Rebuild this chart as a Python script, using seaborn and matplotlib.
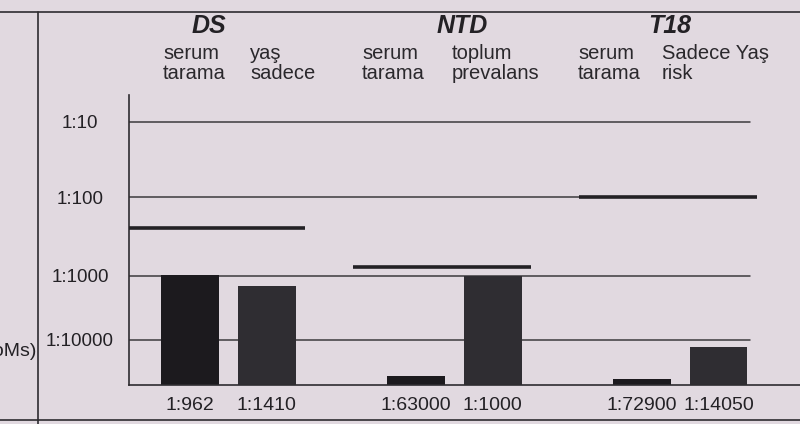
import matplotlib
matplotlib.use('Agg')
import matplotlib.pyplot as plt
from matplotlib.lines import Line2D
import seaborn as sns
import pandas as pd
import numpy as np

# Risk values (1:N)
groups = ['DS', 'DS', 'NTD', 'NTD', 'T18', 'T18']
kinds = ['serum', 'referans', 'serum', 'referans', 'serum', 'referans']
denominators = [962, 1410, 63000, 1000, 72900, 14050]
sub_labels = ['serum\ntarama', 'yaş\nsadece', 'serum\ntarama', 'toplum\nprevalans',
              'serum\ntarama', 'Sadece Yaş\nrisk']
group_names = ['DS', 'NTD', 'T18']
cutoffs = [250, 780, 100]
tick_denoms = [10, 100, 1000, 10000]

PAPER = '#e1d9e0'
INK = '#232125'

# bars grow up from 1:100000; printed axis has uneven decade spacing
BASE = 100000
H_KNOTS = [-1, 0, 1, 2, 3, 4, 5]
PX_KNOTS = [-45, 0, 45, 109, 188, 263, 338]


def to_height(d):
    return np.log10(BASE / np.asarray(d, dtype=float))


def fwd(v):
    return np.interp(v, H_KNOTS, PX_KNOTS)


def inv(v):
    return np.interp(v, PX_KNOTS, H_KNOTS)


def main():
    sns.set_style('white')
    plt.rcParams['font.family'] = ['Liberation Sans', 'DejaVu Sans']

    df = pd.DataFrame({'grup': groups, 'tur': kinds, 'h': to_height(denominators)})

    fig = plt.figure(figsize=(8, 4.24), dpi=100, facecolor=PAPER)
    W, H = 800, 424
    ax = fig.add_axes([129 / W, 1 - 385 / H, (800 - 129) / W, (385 - 95) / H])
    ax.set_facecolor(PAPER)

    sns.barplot(data=df, x='grup', y='h', hue='tur', hue_order=['serum', 'referans'],
                palette=['#1c1a1e', '#2f2d32'], width=0.68, gap=0.25,
                legend=False, errorbar=None, saturation=1, linewidth=0, ax=ax)

    ax.set_yscale('function', functions=(fwd, inv))
    ax.set_ylim(0, float(inv(290)))
    ax.set_xlim(-0.44, 2.53)

    # gridlines at the decade ticks
    tick_h = to_height(tick_denoms)
    gx = (750 - 129) / (800 - 129)
    for th in tick_h:
        ax.axhline(th, xmin=0, xmax=gx, color='#3c3a3e', lw=1.1, zorder=0.5)
    ax.set_yticks(tick_h, labels=[f'1:{d}' for d in tick_denoms])
    ax.tick_params(axis='y', length=0, pad=35.3, labelsize=13.5, labelcolor=INK)
    for lbl in ax.get_yticklabels():
        lbl.set_horizontalalignment('center')
    ax.tick_params(axis='x', length=0, labelbottom=False)
    ax.set_xlabel('')
    ax.set_ylabel('')

    for side in ['top', 'right']:
        ax.spines[side].set_visible(False)
    for side in ['left', 'bottom']:
        ax.spines[side].set_color('#2e2c30')
        ax.spines[side].set_linewidth(1.2)

    # cut-off lines per test
    for i, c in enumerate(cutoffs):
        ax.hlines(to_height(c), i - 0.45, i + 0.34, color=INK, lw=2.6, zorder=3)

    # risk labels under each bar
    bars = sorted(ax.patches, key=lambda p: p.get_x())
    for p, d in zip(bars, denominators):
        ax.text(p.get_x() + p.get_width() / 2, -20 / 290, f'1:{d}',
                transform=ax.get_xaxis_transform(), ha='center', va='center',
                fontsize=14, color=INK, clip_on=False)

    # headers
    header_x = [209, 462, 670]
    for name, x in zip(group_names, header_x):
        fig.text(x / W, 1 - 26 / H, name, ha='center', va='center', fontsize=18,
                 fontweight='bold', fontstyle='italic', color=INK)
    sub_x = [163, 250, 362, 452, 578, 662]
    for lab, x in zip(sub_labels, sub_x):
        fig.text(x / W, 1 - 44 / H, lab, ha='left', va='top', fontsize=14.5,
                 color='#2a282c', linespacing=1.05)

    # axis title of the report, cut by the photo's left edge
    fig.text(37 / W, 1 - 352 / H, '(MoMs)', ha='right', va='center', fontsize=14, color=INK)

    # table frame of the printed report
    fig.add_artist(Line2D([38 / W, 38 / W], [0, 1 - 12 / H], transform=fig.transFigure,
                          color='#2e2c30', lw=1.2))
    fig.add_artist(Line2D([0, 1], [1 - 12 / H, 1 - 12 / H], transform=fig.transFigure,
                          color='#2e2c30', lw=1.2))
    fig.add_artist(Line2D([0, 1], [1 - 420 / H, 1 - 420 / H], transform=fig.transFigure,
                          color='#2e2c30', lw=1.2))

    plt.savefig('out.png', dpi=100, facecolor=PAPER)
    plt.close()


if __name__ == "__main__":
    main()
